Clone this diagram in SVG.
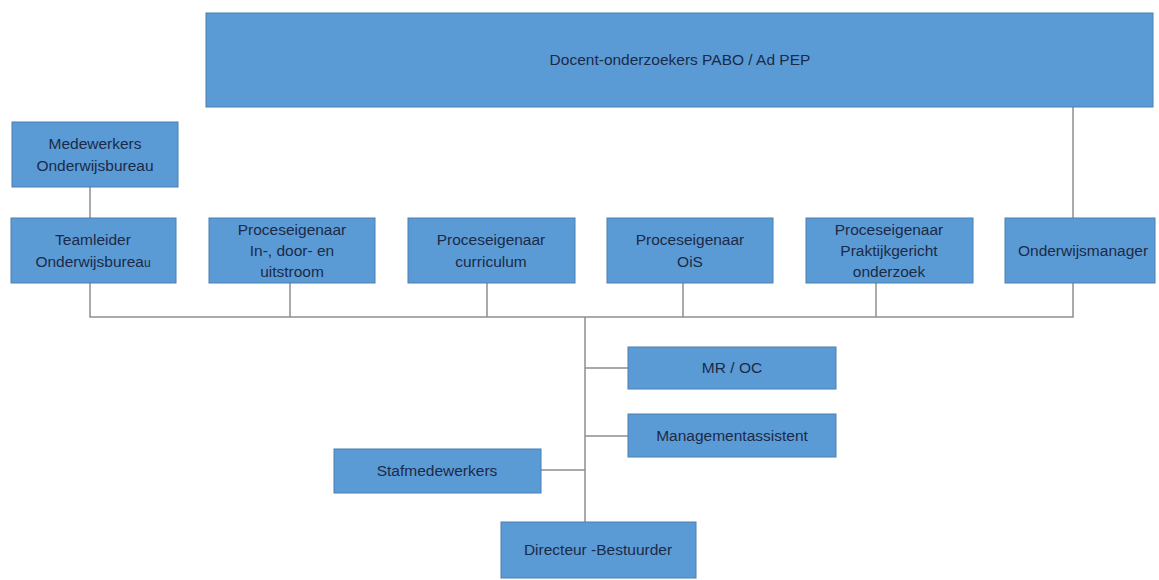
<svg xmlns="http://www.w3.org/2000/svg" width="1159" height="580" viewBox="0 0 1159 580">
<style>
.box{fill:#5B9BD5;stroke:#4A7FB0;stroke-width:1}
.t{font-family:"Liberation Sans",Arial,sans-serif;font-size:15.5px;fill:#1B2A47;text-anchor:middle}
.c{stroke:#8E8E8E;stroke-width:1.5;fill:none}
</style>
<rect width="1159" height="580" fill="#FFFFFF"/>
<g id="connectors">
<line class="c" x1="90" y1="187" x2="90" y2="218"/>
<line class="c" x1="1073" y1="107" x2="1073" y2="218"/>
<polyline class="c" points="90,283 90,317 1073,317 1073,283"/>
<line class="c" x1="290" y1="283" x2="290" y2="317"/>
<line class="c" x1="487" y1="283" x2="487" y2="317"/>
<line class="c" x1="683" y1="283" x2="683" y2="317"/>
<line class="c" x1="876" y1="283" x2="876" y2="317"/>
<line class="c" x1="585" y1="317" x2="585" y2="522"/>
<line class="c" x1="585" y1="368" x2="628" y2="368"/>
<line class="c" x1="585" y1="436" x2="628" y2="436"/>
<line class="c" x1="541" y1="470" x2="585" y2="470"/>
</g>
<g id="docent">
<rect class="box" x="206" y="13" width="947" height="94"/>
<text class="t" x="680" y="65">Docent-onderzoekers PABO / Ad PEP</text>
</g>
<g id="medewerkers">
<rect class="box" x="12" y="122" width="166" height="65"/>
<text class="t" x="95" y="149">Medewerkers</text>
<text class="t" x="95" y="171">Onderwijsbureau</text>
</g>
<g id="teamleider">
<rect class="box" x="11" y="218" width="165" height="65"/>
<text class="t" x="93" y="245">Teamleider</text>
<text class="t" x="93" y="267">Onderwijsburea<tspan font-size="12">u</tspan></text>
</g>
<g id="pe-instroom">
<rect class="box" x="209" y="218" width="166" height="65"/>
<text class="t" x="292" y="235">Proceseigenaar</text>
<text class="t" x="292" y="256">In-, door- en</text>
<text class="t" x="292" y="277">uitstroom</text>
</g>
<g id="pe-curriculum">
<rect class="box" x="408" y="218" width="167" height="65"/>
<text class="t" x="491" y="245">Proceseigenaar</text>
<text class="t" x="491" y="267">curriculum</text>
</g>
<g id="pe-ois">
<rect class="box" x="607" y="218" width="166" height="65"/>
<text class="t" x="690" y="245">Proceseigenaar</text>
<text class="t" x="690" y="267">OiS</text>
</g>
<g id="pe-praktijk">
<rect class="box" x="806" y="218" width="167" height="65"/>
<text class="t" x="889" y="235">Proceseigenaar</text>
<text class="t" x="889" y="256">Praktijkgericht</text>
<text class="t" x="889" y="277">onderzoek</text>
</g>
<g id="onderwijsmanager">
<rect class="box" x="1005" y="218" width="150" height="65"/>
<text class="t" x="1083" y="256">Onderwijsmanager</text>
</g>
<g id="mr-oc">
<rect class="box" x="628" y="347" width="208" height="42"/>
<text class="t" x="732" y="373">MR / OC</text>
</g>
<g id="managementassistent">
<rect class="box" x="628" y="414" width="208" height="43"/>
<text class="t" x="732" y="441">Managementassistent</text>
</g>
<g id="stafmedewerkers">
<rect class="box" x="334" y="449" width="207" height="44"/>
<text class="t" x="437" y="476">Stafmedewerkers</text>
</g>
<g id="directeur">
<rect class="box" x="501" y="522" width="195" height="56"/>
<text class="t" x="598" y="555">Directeur -Bestuurder</text>
</g>
</svg>
